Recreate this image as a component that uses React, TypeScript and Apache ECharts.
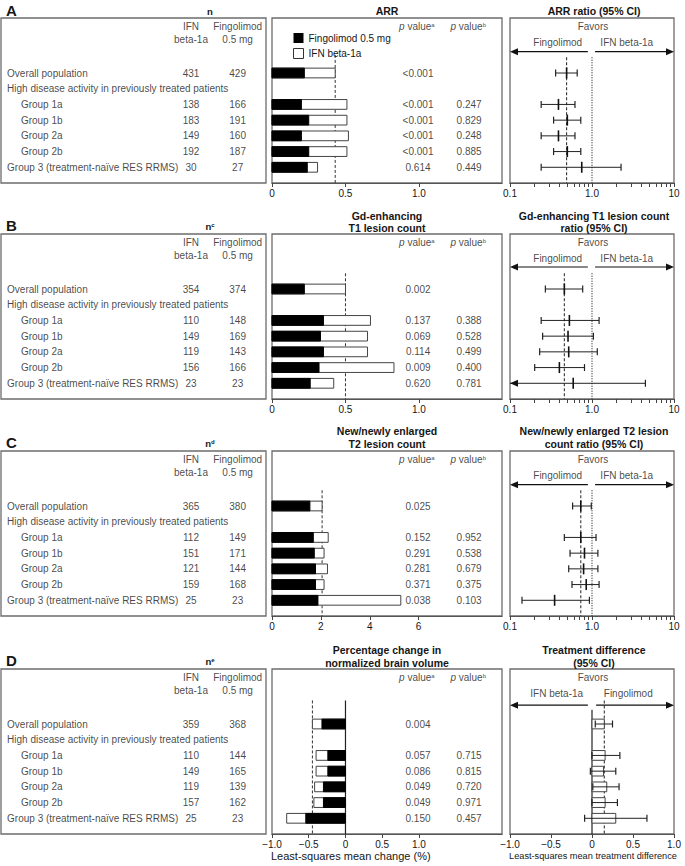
import React, { useEffect, useRef } from "react";
import * as echarts from "echarts";

const FONT = '"Liberation Sans", Arial, Helvetica, sans-serif';
const INK = "#161616";
const BORDER = "#6c6c6c";

// ---------- categories ----------
const rowLabels = [
  "Overall population",
  "High disease activity in previously treated patients",
  "Group 1a",
  "Group 1b",
  "Group 2a",
  "Group 2b",
  "Group 3 (treatment-naïve RES RRMS)",
];
const rowIndented = [false, false, true, true, true, true, false];
const dataRows = [0, 2, 3, 4, 5, 6];

// ---------- A: ARR ----------
const nIfnA = [431, 138, 183, 149, 192, 30];
const nFinA = [429, 166, 191, 160, 187, 27];
const arrIfn = [0.43, 0.51, 0.51, 0.52, 0.51, 0.31];
const arrFin = [0.22, 0.2, 0.25, 0.2, 0.25, 0.24];
const arrPa = ["<0.001", "<0.001", "<0.001", "<0.001", "<0.001", "0.614"];
const arrPb = ["", "0.247", "0.829", "0.248", "0.885", "0.449"];
const arrRatio = [0.49, 0.39, 0.5, 0.39, 0.5, 0.75];
const arrRatioLo = [0.36, 0.24, 0.34, 0.24, 0.34, 0.24];
const arrRatioHi = [0.66, 0.62, 0.73, 0.62, 0.73, 2.26];

// ---------- B: Gd-enhancing T1 ----------
const nIfnB = [354, 110, 149, 119, 156, 23];
const nFinB = [374, 148, 169, 143, 166, 23];
const gdIfn = [0.5, 0.67, 0.65, 0.65, 0.83, 0.42];
const gdFin = [0.22, 0.35, 0.33, 0.35, 0.32, 0.26];
const gdPa = ["0.002", "0.137", "0.069", "0.114", "0.009", "0.620"];
const gdPb = ["", "0.388", "0.528", "0.499", "0.400", "0.781"];
const gdRatio = [0.46, 0.53, 0.51, 0.52, 0.4, 0.59];
const gdRatioLo = [0.27, 0.24, 0.25, 0.23, 0.2, 0.07];
const gdRatioHi = [0.77, 1.22, 1.04, 1.16, 0.81, 4.48];

// ---------- C: new/newly enlarged T2 ----------
const nIfnC = [365, 112, 151, 121, 159, 25];
const nFinC = [380, 149, 171, 144, 168, 23];
const t2Ifn = [2.05, 2.3, 2.13, 2.27, 2.13, 5.27];
const t2Fin = [1.55, 1.69, 1.73, 1.78, 1.78, 1.88];
const t2Pa = ["0.025", "0.152", "0.291", "0.281", "0.371", "0.038"];
const t2Pb = ["", "0.952", "0.538", "0.679", "0.375", "0.103"];
const t2Ratio = [0.73, 0.73, 0.81, 0.79, 0.85, 0.35];
const t2RatioLo = [0.58, 0.46, 0.54, 0.52, 0.57, 0.14];
const t2RatioHi = [0.98, 1.12, 1.18, 1.18, 1.22, 0.93];

// ---------- D: brain volume ----------
const nIfnD = [359, 110, 149, 119, 157, 25];
const nFinD = [368, 144, 165, 139, 162, 23];
const bvIfn = [-0.45, -0.4, -0.4, -0.42, -0.43, -0.8];
const bvFin = [-0.32, -0.24, -0.24, -0.3, -0.3, -0.54];
const bvPa = ["0.004", "0.057", "0.086", "0.049", "0.049", "0.150"];
const bvPb = ["", "0.715", "0.815", "0.720", "0.971", "0.457"];
const bvDiff = [0.15, 0.16, 0.14, 0.18, 0.16, 0.29];
const bvDiffLo = [0.04, 0.0, -0.02, 0.01, 0.0, -0.09];
const bvDiffHi = [0.25, 0.34, 0.29, 0.33, 0.31, 0.67];

// ---------- tick labels ----------
const ticksAB = [0, 0.5, 1.0];
const ticksC = [0, 2, 4, 6];
const ticksD = [-1, -0.5, 0, 0.5, 1];
const ratioLabelTicks = [0.1, 1, 10];
const ratioMinorTicks = [0.1, 0.2, 0.3, 0.4, 0.5, 0.6, 0.7, 0.8, 0.9, 1, 2, 3, 4, 5, 6, 7, 8, 9, 10];
const diffTicks = [-1, -0.5, 0, 0.5, 1];
const favorsArrowStartRatio = [0.89, 1.09];
const favorsArrowStartDiff = [-0.05, 0.05];

// ---------- layout ----------
const PANEL_TOPS = [18, 234, 451, 669];
const BOX_H = 165;
const LEFT_BOX = { left: 1, width: 265 };
const MID_BOX = { left: 272, width: 230 };
const RIGHT_BOX = { left: 510, width: 164 };
const ROW_MIN = -3.5;
const ROW_MAX = 7;
const HEAD1 = -2.93;
const HEAD2 = -2.14;
const FAV_ROW = -1.96;

const fmt1 = (v: number) => (Math.abs(v) < 1e-9 ? "0" : (v < 0 ? "\u2212" : "") + Math.abs(v).toFixed(1));
const fmtLog = (v: number) => {
  const r = Math.round(v);
  return r === -1 ? "0.1" : r === 0 ? "1.0" : "10";
};
const lg = (v: number) => Math.log10(v);

const panels = [
  {
    letter: "A", nSup: "", letterY: 10, titleY: 11,
    midTitle: ["ARR"], rightTitle: ["ARR ratio (95% CI)"],
    nIfn: nIfnA, nFin: nFinA, ifn: arrIfn, fin: arrFin, pa: arrPa, pb: arrPb,
    midMin: 0, midMax: 1.565, midTicks: ticksAB, midFmt: fmt1, dashStart: -1.15,
    est: arrRatio, lo: arrRatioLo, hi: arrRatioHi, log: true,
    favL: "Fingolimod", favR: "IFN beta-1a", arrowRow: -1.36,
  },
  {
    letter: "B", nSup: "c", letterY: 225, titleY: 215.5,
    midTitle: ["Gd-enhancing", "T1 lesion count"], rightTitle: ["Gd-enhancing T1 lesion count", "ratio (95% CI)"],
    nIfn: nIfnB, nFin: nFinB, ifn: gdIfn, fin: gdFin, pa: gdPa, pb: gdPb,
    midMin: 0, midMax: 1.565, midTicks: ticksAB, midFmt: fmt1, dashStart: -1.0,
    est: gdRatio, lo: gdRatioLo, hi: gdRatioHi, log: true,
    favL: "Fingolimod", favR: "IFN beta-1a", arrowRow: -1.4,
  },
  {
    letter: "C", nSup: "d", letterY: 442, titleY: 431,
    midTitle: ["New/newly enlarged", "T2 lesion count"], rightTitle: ["New/newly enlarged T2 lesion", "count ratio (95% CI)"],
    nIfn: nIfnC, nFin: nFinC, ifn: t2Ifn, fin: t2Fin, pa: t2Pa, pb: t2Pb,
    midMin: 0, midMax: 9.41, midTicks: ticksC, midFmt: (v: number) => String(v), dashStart: -1.0,
    est: t2Ratio, lo: t2RatioLo, hi: t2RatioHi, log: true,
    favL: "Fingolimod", favR: "IFN beta-1a", arrowRow: -1.36,
  },
  {
    letter: "D", nSup: "e", letterY: 660, titleY: 650,
    midTitle: ["Percentage change in", "normalized brain volume"], rightTitle: ["Treatment difference", "(95% CI)"],
    nIfn: nIfnD, nFin: nFinD, ifn: bvIfn, fin: bvFin, pa: bvPa, pb: bvPb,
    midMin: -1, midMax: 2.13, midTicks: ticksD, midFmt: fmt1, dashStart: -1.5,
    est: bvDiff, lo: bvDiffLo, hi: bvDiffHi, log: false,
    favL: "IFN beta-1a", favR: "Fingolimod", arrowRow: -1.2,
  },
];

type TextItem = { x: number; y: number; t: string; align?: string };

function textSeries(xi: number, yi: number, items: TextItem[]) {
  return {
    type: "scatter",
    xAxisIndex: xi,
    yAxisIndex: yi,
    symbolSize: 1,
    silent: true,
    clip: false,
    z: 10,
    itemStyle: { color: "rgba(0,0,0,0)" },
    emphasis: { disabled: true },
    label: {
      show: true,
      position: "inside",
      color: INK,
      fontSize: 10,
      fontFamily: FONT,
      formatter: (p: any) => p.name,
      rich: {
        i: { fontStyle: "italic", fontSize: 10, fontFamily: FONT, color: INK },
        s: { fontSize: 6, fontFamily: FONT, color: INK, verticalAlign: "top" },
      },
    },
    data: items.map((it) => ({
      value: [it.x, it.y],
      name: it.t,
      label: { align: it.align || "center", verticalAlign: "middle" },
    })),
  };
}

function gtext(x: number, y: number, text: string, extra: any = {}) {
  return {
    type: "text",
    x,
    y,
    silent: true,
    style: {
      text,
      fill: INK,
      fontFamily: FONT,
      fontSize: 10,
      align: "center",
      verticalAlign: "middle",
      ...extra,
    },
  };
}

const barRender = (fill: string, stroke: string) => (params: any, api: any) => {
  const v = api.value(0);
  const r = api.value(1);
  const a = api.coord([0, r]);
  const b = api.coord([v, r]);
  const h = api.size([0, 0.62])[1];
  return {
    type: "rect",
    shape: { x: Math.min(a[0], b[0]), y: a[1] - h / 2, width: Math.abs(b[0] - a[0]), height: h },
    style: { fill, stroke, lineWidth: 1 },
  };
};

const forestRender = (xmin: number, withBar: boolean) => (params: any, api: any) => {
  const e = api.value(0);
  const r = api.value(1);
  const lo = api.value(2);
  const hi = api.value(3);
  const pe = api.coord([e, r]);
  const pl = api.coord([Math.max(lo, xmin), r]);
  const ph = api.coord([hi, r]);
  const y = pe[1];
  const cap = 3.5;
  const mk = 5.5;
  const children: any[] = [];
  if (withBar) {
    const p0 = api.coord([0, r]);
    const h = api.size([0, 0.62])[1];
    children.push({
      type: "rect",
      shape: { x: Math.min(p0[0], pe[0]), y: y - h / 2, width: Math.abs(pe[0] - p0[0]), height: h },
      style: { fill: "#fff", stroke: "#444", lineWidth: 1 },
    });
  }
  children.push({ type: "line", shape: { x1: pl[0], y1: y, x2: ph[0], y2: y }, style: { stroke: "#222", lineWidth: 1 } });
  children.push({ type: "line", shape: { x1: ph[0], y1: y - cap, x2: ph[0], y2: y + cap }, style: { stroke: "#222", lineWidth: 1.2 } });
  if (lo < xmin) {
    children.push({
      type: "polygon",
      shape: { points: [[pl[0], y], [pl[0] + 8, y - 3.5], [pl[0] + 8, y + 3.5]] },
      style: { fill: "#111" },
    });
  } else {
    children.push({ type: "line", shape: { x1: pl[0], y1: y - cap, x2: pl[0], y2: y + cap }, style: { stroke: "#222", lineWidth: 1.2 } });
  }
  if (!withBar) {
    children.push({ type: "line", shape: { x1: pe[0], y1: y - mk, x2: pe[0], y2: y + mk }, style: { stroke: "#111", lineWidth: 1.6 } });
  }
  return { type: "group", children };
};

const arrowRender = (params: any, api: any) => {
  const a = api.coord([api.value(0), api.value(1)]);
  const b = api.coord([api.value(2), api.value(1)]);
  const dir = Math.sign(b[0] - a[0]);
  return {
    type: "group",
    children: [
      { type: "line", shape: { x1: a[0], y1: a[1], x2: b[0] - dir * 6, y2: b[1] }, style: { stroke: "#111", lineWidth: 1.2 } },
      { type: "polygon", shape: { points: [[b[0], b[1]], [b[0] - dir * 8, b[1] - 3.5], [b[0] - dir * 8, b[1] + 3.5]] }, style: { fill: "#111" } },
    ],
  };
};

function vline(xi: number, yi: number, x: number, y1: number, y2: number, type: any, width = 1, color = "#333") {
  return {
    type: "line",
    xAxisIndex: xi,
    yAxisIndex: yi,
    data: [[x, y1], [x, y2]],
    symbol: "none",
    silent: true,
    z: 1,
    lineStyle: { type, width, color },
  };
}

function buildOption() {
  const grid: any[] = [];
  const xAxis: any[] = [];
  const yAxis: any[] = [];
  const series: any[] = [];
  const graphic: any[] = [];

  const addGrid = (box: any, top: number) => {
    grid.push({
      ...box,
      top,
      height: BOX_H,
      show: true,
      borderColor: BORDER,
      borderWidth: 1.3,
      backgroundColor: "rgba(0,0,0,0)",
    });
    const gi = grid.length - 1;
    yAxis.push({ gridIndex: gi, type: "value", min: ROW_MIN, max: ROW_MAX, inverse: true, show: false });
    return gi;
  };
  const addX = (gi: number, cfg: any) => {
    xAxis.push({ gridIndex: gi, ...cfg });
    return xAxis.length - 1;
  };
  const fracAxis = (gi: number) => addX(gi, { type: "value", min: 0, max: 1, show: false, position: "top" });
  const mainAxis = (min: number, max: number, ticks: number[], labels: number[], fmt: any) => ({
    type: "value",
    min,
    max,
    position: "bottom",
    axisLine: { show: true, onZero: false, lineStyle: { color: "#555", width: 1 } },
    axisTick: { show: true, inside: false, length: 4, customValues: ticks, lineStyle: { color: "#444", width: 1 } },
    axisLabel: { show: true, customValues: labels, formatter: fmt, fontSize: 10, color: INK, margin: 5, fontFamily: FONT },
    splitLine: { show: false },
  });

  panels.forEach((p, i) => {
    const top = PANEL_TOPS[i];

    // ----- left table -----
    const L = addGrid(LEFT_BOX, top);
    const xL = fracAxis(L);
    const leftItems: TextItem[] = [
      { x: 0.717, y: HEAD1, t: "IFN" },
      { x: 0.717, y: HEAD2, t: "beta-1a" },
      { x: 0.893, y: HEAD1, t: "Fingolimod" },
      { x: 0.893, y: HEAD2, t: "0.5 mg" },
      ...rowLabels.map((t, r) => ({ x: rowIndented[r] ? 0.075 : 0.023, y: r, t, align: "left" })),
      ...dataRows.map((r, k) => ({ x: 0.717, y: r, t: String(p.nIfn[k]) })),
      ...dataRows.map((r, k) => ({ x: 0.893, y: r, t: String(p.nFin[k]) })),
    ];
    series.push(textSeries(xL, L, leftItems));

    // ----- middle bars -----
    const M = addGrid(MID_BOX, top);
    const xM = addX(M, mainAxis(p.midMin, p.midMax, p.midTicks, p.midTicks, p.midFmt));
    const xMf = fracAxis(M);
    series.push(vline(xM, M, p.ifn[0], p.dashStart, ROW_MAX, [3, 2], 1));
    if (p.midMin < 0) series.push(vline(xM, M, 0, p.dashStart, ROW_MAX, "solid", 1.2, "#222"));
    series.push({
      type: "custom",
      name: "IFN beta-1a",
      xAxisIndex: xM,
      yAxisIndex: M,
      encode: { x: 0, y: 1 },
      itemStyle: { color: "#fff", borderColor: "#333" },
      z: 2,
      silent: true,
      renderItem: barRender("#fff", "#444"),
      data: dataRows.map((r, k) => [p.ifn[k], r]),
    });
    series.push({
      type: "custom",
      name: "Fingolimod 0.5 mg",
      xAxisIndex: xM,
      yAxisIndex: M,
      encode: { x: 0, y: 1 },
      itemStyle: { color: "#000" },
      z: 3,
      silent: true,
      renderItem: barRender("#000", "#000"),
      data: dataRows.map((r, k) => [p.fin[k], r]),
    });
    const midItems: TextItem[] = [
      { x: 0.63, y: HEAD1, t: "{i|p} value{s|a}" },
      { x: 0.853, y: HEAD1, t: "{i|p} value{s|b}" },
      ...dataRows.map((r, k) => ({ x: 0.635, y: r, t: p.pa[k] })),
      ...dataRows.filter((r, k) => p.pb[k] !== "").map((r) => ({ x: 0.857, y: r, t: p.pb[dataRows.indexOf(r)] })),
    ];
    series.push(textSeries(xMf, M, midItems));

    // ----- right forest -----
    const R = addGrid(RIGHT_BOX, top);
    let xR: number;
    if (p.log) {
      xR = addX(R, mainAxis(-1, 1, ratioMinorTicks.map(lg), ratioLabelTicks.map(lg), fmtLog));
    } else {
      xR = addX(R, mainAxis(-1, 1, diffTicks, diffTicks, fmt1));
    }
    const xRf = fracAxis(R);
    const tx = (v: number) => (p.log ? lg(v) : v);
    if (p.log) {
      series.push(vline(xR, R, tx(p.est[0]), -1.0, ROW_MAX, [3, 2], 1.1));
      series.push(vline(xR, R, 0, -1.0, ROW_MAX, [1, 1.5], 1.2));
    } else {
      series.push(vline(xR, R, 0, -0.9, ROW_MAX, "solid", 1.2, "#222"));
      series.push(vline(xR, R, tx(p.est[0]), -1.5, ROW_MAX, [3, 2], 1.1));
    }
    const arrowStarts = p.log ? favorsArrowStartRatio.map(lg) : favorsArrowStartDiff;
    series.push({
      type: "custom",
      xAxisIndex: xR,
      yAxisIndex: R,
      encode: { x: 0, y: 1 },
      silent: true,
      z: 3,
      renderItem: arrowRender,
      data: [
        [arrowStarts[0], p.arrowRow, -1],
        [arrowStarts[1], p.arrowRow, 1],
      ],
    });
    series.push({
      type: "custom",
      xAxisIndex: xR,
      yAxisIndex: R,
      encode: { x: 0, y: 1 },
      silent: true,
      z: 4,
      renderItem: forestRender(-1, !p.log),
      data: dataRows.map((r, k) => [tx(p.est[k]), r, tx(p.lo[k]), tx(p.hi[k])]),
    });
    const favLx = p.log ? 0.291 : 0.285;
    const favRx = p.log ? 0.712 : 0.721;
    series.push(
      textSeries(xRf, R, [
        { x: 0.506, y: HEAD1, t: "Favors" },
        { x: favLx, y: FAV_ROW, t: p.favL },
        { x: favRx, y: FAV_ROW, t: p.favR },
      ])
    );

    // ----- titles -----
    graphic.push(gtext(6, p.letterY, p.letter, { align: "left", fontWeight: "bold", fontSize: 15 }));
    graphic.push(
      gtext(210, p.letterY + 1.5, p.nSup ? "{b|n}{s|" + p.nSup + "}" : "{b|n}", {
        rich: {
          b: { fontSize: 9.5, fontWeight: "bold", fontFamily: FONT, fill: INK },
          s: { fontSize: 6, fontWeight: "bold", fontFamily: FONT, fill: INK, verticalAlign: "top" },
        },
      })
    );
    p.midTitle.forEach((t, j) =>
      graphic.push(gtext(387, p.titleY + j * 12.5, t, { fontWeight: "bold", fontSize: 10.5 }))
    );
    p.rightTitle.forEach((t, j) =>
      graphic.push(gtext(594, p.titleY + j * 12.5, t, { fontWeight: "bold", fontSize: 10.5 }))
    );
  });

  graphic.push(gtext(271, 856, "Least-squares mean change (%)", { align: "left", fontSize: 11 }));
  graphic.push(gtext(593, 856, "Least-squares mean treatment difference", { align: "center", fontSize: 9.2 }));

  return {
    animation: false,
    backgroundColor: "#fff",
    textStyle: { fontFamily: FONT, color: INK },
    legend: {
      left: 288,
      top: 28,
      orient: "vertical",
      itemWidth: 10,
      itemHeight: 10,
      itemGap: 5,
      icon: "rect",
      selectedMode: false,
      textStyle: { fontSize: 10, color: INK, fontFamily: FONT },
      data: [
        { name: "Fingolimod 0.5 mg", itemStyle: { color: "#000" } },
        { name: "IFN beta-1a", itemStyle: { color: "#fff", borderColor: "#333", borderWidth: 1 } },
      ],
    },
    grid,
    xAxis,
    yAxis,
    series,
    graphic,
  };
}

export default function App() {
  const ref = useRef<HTMLDivElement>(null);
  useEffect(() => {
    const chart = echarts.init(ref.current as HTMLDivElement, null, { renderer: "svg" });
    chart.setOption(buildOption() as any);
    return () => chart.dispose();
  }, []);
  return (
    <div
      ref={ref}
      style={{ position: "absolute", left: 0, top: 0, width: 685, height: 866, background: "#fff" }}
    />
  );
}
